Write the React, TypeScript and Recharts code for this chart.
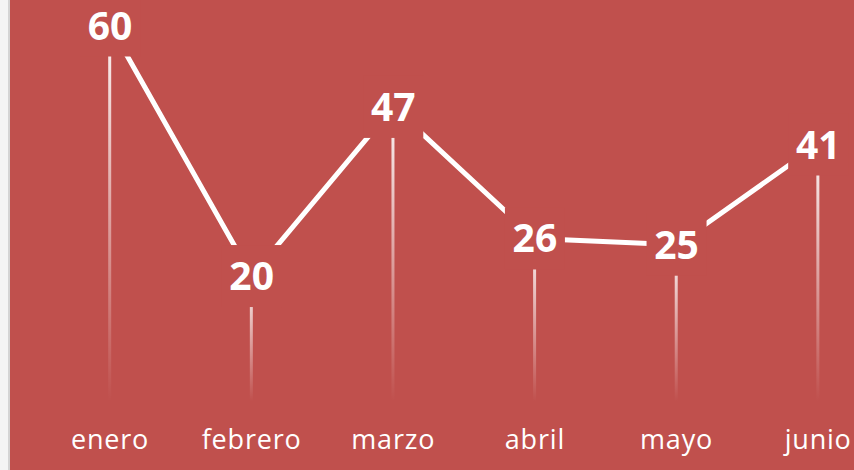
import React from 'react';
import { Bar, ComposedChart, LabelList, Line, XAxis, YAxis } from 'recharts';

const months = ['enero', 'febrero', 'marzo', 'abril', 'mayo', 'junio'];
const values = [60, 20, 47, 26, 25, 41];

const RED = '#C0504D';
const FONT = '"Open Sans", "DejaVu Sans", sans-serif';

const data = months.map((m, i) => ({ month: m, value: values[i] }));

// Etiqueta con fondo del mismo rojo: tapa la línea y la parte alta de la línea de caída,
// como hace Excel con etiquetas rellenas.
function PointLabel(props: any) {
  const { x, y, value } = props;
  if (x == null || y == null) return null;
  return (
    <g>
      <rect x={x - 30} y={y - 31} width={60} height={62} fill={RED} />
      <text
        x={x}
        y={y}
        dy={14}
        textAnchor="middle"
        fill="#fff"
        fontFamily={FONT}
        fontWeight={700}
        fontSize={39}
      >
        {value}
      </text>
    </g>
  );
}

function MonthTick(props: any) {
  const { x, y, payload } = props;
  return (
    <text
      x={x}
      y={y}
      dy={48}
      textAnchor="middle"
      fill="#fff"
      fontFamily={FONT}
      fontSize={27}
      letterSpacing={0.8}
    >
      {payload.value}
    </text>
  );
}

export default function App() {
  return (
    <div style={{ position: 'relative', width: 854, height: 470, overflow: 'hidden', background: '#F4F4F4' }}>
      <style>{'body{margin:0}'}</style>
      <div style={{ position: 'absolute', left: 8, top: 0, width: 2, height: 470, background: '#D4D4D4' }} />
      <div style={{ position: 'absolute', left: 10, top: 0, right: 0, height: 470, background: RED }} />
      <div style={{ position: 'absolute', left: 0, top: 0 }}>
        <ComposedChart width={889} height={470} data={data} margin={{ top: 25.5, right: 0, bottom: 0, left: 39.2 }}>
          <defs>
            <linearGradient id="dropFade" x1="0" y1="0" x2="0" y2="1">
              <stop offset="0%" stopColor="#fff" stopOpacity={0.95} />
              <stop offset="100%" stopColor="#fff" stopOpacity={0} />
            </linearGradient>
          </defs>
          <XAxis
            dataKey="month"
            axisLine={false}
            tickLine={false}
            tickSize={0}
            tickMargin={0}
            height={68.7}
            interval={0}
            tick={<MonthTick />}
          />
          <YAxis hide domain={[0, 60]} allowDataOverflow />
          <Bar dataKey="value" barSize={3} fill="url(#dropFade)" isAnimationActive={false} />
          <Line
            type="linear"
            dataKey="value"
            stroke="#fff"
            strokeWidth={5}
            dot={false}
            activeDot={false}
            isAnimationActive={false}
          >
            <LabelList dataKey="value" content={<PointLabel />} />
          </Line>
        </ComposedChart>
      </div>
    </div>
  );
}
